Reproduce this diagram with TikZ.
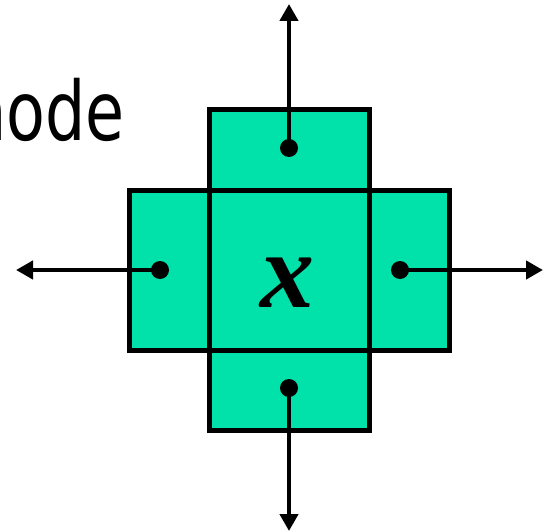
\documentclass[tikz,border=0pt]{standalone}
\usepackage{fontspec}
\newfontfamily\wordfont[FakeStretch=0.86]{DejaVu Sans Condensed}
\newfontfamily\varfont{Liberation Serif}
\usetikzlibrary{arrows.meta}

\definecolor{cellgreen}{RGB}{0,226,170}

\tikzset{
	cell/.style={draw, line width=5pt, fill=cellgreen, inner sep=0pt},
	dot/.style={circle, fill=black, inner sep=0pt, minimum size=18pt},
	flow/.style={line width=4.8pt, -{Triangle[length=17pt,width=18pt]}}
}

\begin{document}
\begin{tikzpicture}[x=1pt,y=-1pt]
		\useasboundingbox (0,0) rectangle (546,532);
		
		% Cell sizes
		\def\cellSize{160}
		\def\cellDepth{80}
		
		% Label at the top left
		\node[anchor=base east, inner sep=0pt, font=\wordfont\fontsize{82}{86}\selectfont] (title) at (125,140) {node};
		
		% Draw the four neighbour cells
		\node[cell, minimum width=\cellSize pt, minimum height=\cellDepth pt] (north) at (289,150) {};
		\node[cell, minimum width=\cellSize pt, minimum height=\cellDepth pt] (south) at (289,390) {};
		\node[cell, minimum width=\cellDepth pt, minimum height=\cellSize pt] (west) at (169,270) {};
		\node[cell, minimum width=\cellDepth pt, minimum height=\cellSize pt] (east) at (409,270) {};
		
		% Draw the centre cell with "x"
		\node[cell, minimum size=\cellSize pt] (mid) at (289,270) {};
		\node[anchor=base, inner sep=0pt, font=\varfont\bfseries\itshape\fontsize{108}{110}\selectfont] (var) at (287,307) {x};
		
		% Points in the neighbour cells
		\node[dot] (ndot) at (289,148) {};
		\node[dot] (sdot) at (289,388) {};
		\node[dot] (wdot) at (160,270) {};
		\node[dot] (edot) at (400,270) {};
		
		% Ends of the arrows
		\coordinate (ntip) at (289,4);
		\coordinate (stip) at (289,531);
		\coordinate (wtip) at (16,270);
		\coordinate (etip) at (543,270);
		
		% Draw the arrows going out of the cells
		\draw[flow] (ndot.center) -- (ntip);
		\draw[flow] (sdot.center) -- (stip);
		\draw[flow] (wdot.center) -- (wtip);
		\draw[flow] (edot.center) -- (etip);
	\end{tikzpicture}
\end{document}
